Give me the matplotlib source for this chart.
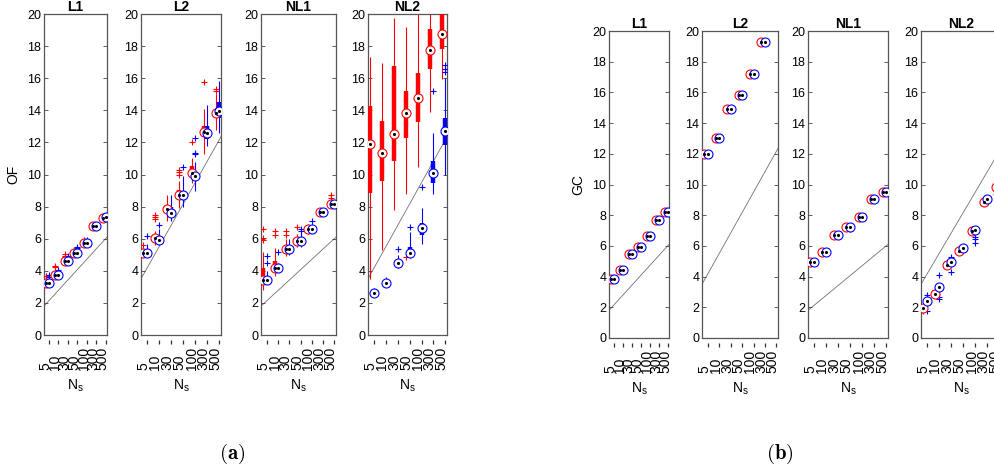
import matplotlib.pyplot as plt
import matplotlib.transforms as mtransforms
import numpy as np

plt.rcParams['font.family'] = ['Liberation Sans', 'DejaVu Sans']
plt.rcParams['mathtext.fontset'] = 'custom'
plt.rcParams['mathtext.rm'] = 'Liberation Sans'
plt.rcParams['mathtext.it'] = 'Liberation Sans'

ns_labels = ['5', '10', '30', '50', '100', '300', '500']
panel_names = ['L1', 'L2', 'NL1', 'NL2']

# lower bound line, value at left and right edge of the axes
bound_l = [1.8, 6.1]
bound_l2 = [3.5, 12.35]

# rows: median, q1, q3, whisker low, whisker high
of_l1_red = [[3.22, 3.2, 3.25, 3.15, 3.4], [3.72, 3.7, 3.75, 3.65, 4.2], [4.62, 4.6, 4.65, 4.55, 4.8],
             [5.08, 5.05, 5.1, 5.0, 5.25], [5.75, 5.72, 5.78, 5.7, 5.9], [6.8, 6.78, 6.82, 6.75, 6.85],
             [7.32, 7.3, 7.35, 7.28, 7.38]]
of_l1_red_out = [[3.7, 3.65], [4.3, 4.25], [5.05, 4.95, 4.85], [5.3], [5.95], [], []]
of_l1_blue = [[3.22, 3.2, 3.25, 3.15, 3.45], [3.72, 3.7, 3.75, 3.65, 3.9], [4.62, 4.6, 4.65, 4.55, 4.75],
              [5.08, 5.05, 5.12, 5.0, 5.3], [5.75, 5.72, 5.8, 5.7, 5.85], [6.8, 6.78, 6.83, 6.75, 6.88],
              [7.35, 7.32, 7.38, 7.3, 7.42]]
of_l1_blue_out = [[3.75, 3.6], [4.05, 3.95], [4.9, 4.8], [5.5, 5.4], [5.92], [], [7.4]]

of_l2_red = [[5.1, 5.05, 5.2, 4.95, 5.45], [6.05, 5.95, 6.25, 5.6, 6.5], [7.82, 7.7, 8.05, 7.1, 8.7],
             [8.7, 8.6, 9.05, 7.9, 9.6], [10.1, 9.9, 10.5, 9.5, 11.0], [12.65, 12.4, 13.0, 11.3, 14.1],
             [13.85, 13.5, 13.9, 12.8, 15.0]]
of_l2_red_out = [[5.6], [7.5, 7.35, 7.2], [], [10.3, 10.15, 10.0], [12.0], [15.75], [15.3, 15.2]]
of_l2_blue = [[5.12, 5.05, 5.2, 4.95, 5.7], [5.95, 5.85, 6.1, 5.6, 6.6], [7.62, 7.55, 7.95, 7.1, 8.7],
              [8.7, 8.6, 9.0, 8.0, 9.9], [9.88, 9.75, 10.1, 9.0, 10.8], [12.6, 12.2, 13.0, 11.8, 14.3],
              [13.95, 13.5, 14.5, 12.6, 15.8]]
of_l2_blue_out = [[6.15], [6.85], [], [10.45], [12.25, 11.35, 11.25], [], []]

of_nl1_red = [[3.43, 3.1, 4.15, 2.8, 5.2], [4.15, 4.05, 4.6, 3.7, 5.4], [5.36, 5.25, 5.5, 4.9, 6.0],
              [5.83, 5.75, 5.95, 5.5, 6.3], [6.58, 6.5, 6.65, 6.3, 6.9], [7.64, 7.6, 7.7, 7.5, 7.85],
              [8.16, 8.1, 8.2, 8.0, 8.4]]
of_nl1_red_out = [[6.58, 6.02, 5.92], [6.45, 6.25], [6.45, 6.25], [6.7], [], [], [8.7, 8.55]]
of_nl1_blue = [[3.43, 3.35, 3.55, 3.2, 4.0], [4.15, 4.1, 4.25, 3.9, 4.5], [5.36, 5.3, 5.45, 5.0, 6.0],
               [5.83, 5.75, 6.0, 5.5, 6.4], [6.58, 6.5, 6.65, 6.35, 6.9], [7.64, 7.6, 7.7, 7.55, 7.8],
               [8.16, 8.1, 8.2, 8.05, 8.3]]
of_nl1_blue_out = [[4.92, 4.47], [5.2], [], [6.6, 6.45], [7.1], [], []]

of_nl2_red = [[11.9, 8.87, 14.27, 3.5, 17.35], [11.32, 9.62, 13.33, 5.3, 16.97], [12.52, 10.86, 16.76, 7.79, 19.73],
              [13.81, 12.25, 15.22, 8.78, 19.17], [14.77, 13.25, 16.3, 10.49, 21.0], [17.78, 16.6, 19.05, 13.9, 21.5],
              [18.77, 17.8, 21.0, 15.93, 22.0]]
of_nl2_red_out = [[], [], [], [4.84], [], [], []]
of_nl2_blue = [[2.64, 2.58, 2.7, 2.4, 2.95], [3.26, 3.2, 3.32, 3.0, 3.6], [4.47, 4.4, 4.55, 4.2, 5.0],
               [5.09, 5.05, 5.5, 4.8, 6.4], [6.65, 6.25, 7.0, 5.7, 7.9], [10.07, 9.45, 10.85, 8.8, 12.6],
               [12.73, 11.85, 13.55, 10.0, 16.0]]
of_nl2_blue_out = [[], [], [5.35], [6.7], [9.2], [15.2], [16.4, 16.6, 16.8]]

gc_l1_red = [[3.84, 3.82, 3.86, 3.8, 3.88], [4.44, 4.42, 4.46, 4.4, 4.48], [5.44, 5.42, 5.46, 5.4, 5.48],
             [5.96, 5.94, 5.98, 5.92, 6.0], [6.65, 6.63, 6.67, 6.61, 6.69], [7.69, 7.67, 7.71, 7.65, 7.73],
             [8.21, 8.19, 8.23, 8.17, 8.25]]
gc_l1_red_out = [[], [], [], [], [], [], []]
gc_l1_blue = gc_l1_red
gc_l1_blue_out = [[], [], [], [], [], [], []]

gc_l2_red = [[11.98, 11.96, 12.0, 11.94, 12.02], [13.02, 13.0, 13.04, 12.98, 13.06], [14.89, 14.87, 14.91, 14.85, 14.93],
             [15.84, 15.82, 15.86, 15.8, 15.88], [17.18, 17.16, 17.2, 17.14, 17.22], [19.28, 19.26, 19.3, 19.24, 19.32],
             [21.0, 20.98, 21.02, 20.96, 21.04]]
gc_l2_red_out = [[], [], [], [], [], [], []]
gc_l2_blue = gc_l2_red
gc_l2_blue_out = [[], [], [], [], [], [], []]

gc_nl1_red = [[4.98, 4.96, 5.0, 4.9, 5.02], [5.63, 5.61, 5.65, 5.58, 5.68], [6.72, 6.68, 6.74, 6.6, 6.76],
              [7.22, 7.2, 7.24, 7.15, 7.26], [7.91, 7.89, 7.93, 7.86, 7.95], [9.04, 9.02, 9.06, 9.0, 9.08],
              [9.51, 9.49, 9.53, 9.45, 9.56]]
gc_nl1_red_out = [[], [], [], [], [], [], []]
gc_nl1_blue = [[4.98, 4.96, 5.0, 4.85, 5.02], [5.63, 5.61, 5.65, 5.58, 5.68], [6.72, 6.7, 6.74, 6.66, 6.76],
               [7.22, 7.18, 7.24, 7.1, 7.28], [7.91, 7.89, 7.93, 7.86, 7.95], [9.04, 9.02, 9.06, 9.0, 9.08],
               [9.51, 9.48, 9.53, 9.4, 9.56]]
gc_nl1_blue_out = [[], [], [], [7.1], [], [], []]

gc_nl2_red = [[1.97, 1.9, 2.02, 1.8, 2.1], [2.87, 2.8, 2.95, 2.7, 3.1], [4.76, 4.7, 4.85, 4.6, 4.95],
              [5.69, 5.62, 5.75, 5.55, 5.85], [6.97, 6.92, 7.02, 6.85, 7.1], [8.88, 8.84, 8.92, 8.75, 8.96],
              [9.86, 9.8, 9.9, 9.7, 9.95]]
gc_nl2_red_out = [[1.75], [3.1], [4.93], [5.8], [7.1], [], [9.55, 9.35]]
gc_nl2_blue = [[2.43, 2.38, 2.5, 2.3, 2.6], [3.34, 3.25, 3.45, 3.0, 3.6], [4.97, 4.9, 5.05, 4.8, 5.15],
               [5.84, 5.8, 5.9, 5.7, 5.95], [7.04, 7.0, 7.1, 6.9, 7.15], [9.06, 9.0, 9.1, 8.95, 9.15],
               [10.08, 10.0, 10.15, 9.7, 10.25]]
gc_nl2_blue_out = [[2.8, 1.75], [4.1, 2.7, 2.55], [4.3, 5.25], [], [6.55, 6.42, 6.2], [], [9.6, 8.9]]

of_red = [of_l1_red, of_l2_red, of_nl1_red, of_nl2_red]
of_red_out = [of_l1_red_out, of_l2_red_out, of_nl1_red_out, of_nl2_red_out]
of_blue = [of_l1_blue, of_l2_blue, of_nl1_blue, of_nl2_blue]
of_blue_out = [of_l1_blue_out, of_l2_blue_out, of_nl1_blue_out, of_nl2_blue_out]
gc_red = [gc_l1_red, gc_l2_red, gc_nl1_red, gc_nl2_red]
gc_red_out = [gc_l1_red_out, gc_l2_red_out, gc_nl1_red_out, gc_nl2_red_out]
gc_blue = [gc_l1_blue, gc_l2_blue, gc_nl1_blue, gc_nl2_blue]
gc_blue_out = [gc_l1_blue_out, gc_l2_blue_out, gc_nl1_blue_out, gc_nl2_blue_out]
bounds = [bound_l, bound_l2, bound_l, bound_l2]

W, H = 995, 474
fig = plt.figure(figsize=(W / 100, H / 100), dpi=100)

x_red = np.arange(7)
x_blue = x_red + 0.31
xlim = (-0.2, 6.45)


def draw_series(ax, xs, rows, outs, color):
    rows = np.array(rows)
    med, q1, q3, lo, hi = rows.T
    ax.vlines(xs, lo, hi, color=color, lw=0.8, capstyle='butt', zorder=2)
    ax.vlines(xs, q1, q3, color=color, lw=3.2, capstyle='butt', zorder=3)
    for x, o in zip(xs, outs):
        if o:
            ax.plot([x] * len(o), o, '+', color=color, ms=4, mew=0.8, zorder=4)
    ax.plot(xs, med, 'o', mfc='white', mec=color, ms=6.5, mew=0.8, zorder=5)
    ax.plot(xs, med, '.', color='k', ms=2.5, zorder=6)


def make_panel(px, top, bottom, name, bound, red, red_out, blue, blue_out, ylabel=None):
    ax = fig.add_axes([px[0] / W, (H - bottom) / H, (px[1] - px[0]) / W, (bottom - top) / H])
    ax.set_xlim(*xlim)
    ax.set_ylim(0, 20)
    ax.plot(xlim, bound, color='#707070', lw=0.6, zorder=1)
    draw_series(ax, x_red, red, red_out, 'red')
    draw_series(ax, x_blue, blue, blue_out, 'blue')
    ax.set_yticks(np.arange(0, 21, 2))
    ax.tick_params(axis='y', direction='in', right=True, length=3, width=0.6,
                   labelsize=9, pad=2, color='#404040')
    ax.set_xticks([])
    # small group marks below the axes
    trans = mtransforms.blended_transform_factory(ax.transData, ax.transAxes)
    mark_y = -7 / (bottom - top)
    ax.plot(x_blue, [mark_y] * 7, '|', color='#333333', ms=2.5, mew=0.9,
            transform=trans, clip_on=False)
    for x, lbl in zip(x_red, ns_labels):
        ax.annotate(lbl, xy=(x, 0), xycoords=('data', 'axes fraction'), xytext=(0, -25),
                    textcoords='offset points', rotation=90, ha='center', va='bottom', fontsize=10)
    ax.set_xlabel('N$_s$', fontsize=10)
    ax.xaxis.set_label_coords(0.5, -(43 / (bottom - top)))
    ax.xaxis.label.set_va('top')
    for s in ax.spines.values():
        s.set_color('#555555')
        s.set_linewidth(0.9)
    ax.set_title(name, fontsize=10, fontweight='bold', pad=2)
    if ylabel:
        ax.set_ylabel(ylabel, fontsize=10, labelpad=5)
    return ax


pos_a = [(44, 107), (141, 221), (261, 336), (368, 447)]
pos_b = [(609, 669), (702, 778), (808, 888), (921, 1001)]

for i in range(4):
    make_panel(pos_a[i], 14, 335, panel_names[i], bounds[i], of_red[i], of_red_out[i],
               of_blue[i], of_blue_out[i], 'OF' if i == 0 else None)
    make_panel(pos_b[i], 31, 338, panel_names[i], bounds[i], gc_red[i], gc_red_out[i],
               gc_blue[i], gc_blue_out[i], 'GC' if i == 0 else None)

fig.text(232 / W, 1 - 454 / H, r'$\mathbf{(a)}$', math_fontfamily='cm', fontsize=15,
         ha='center', va='center')
fig.text(780 / W, 1 - 454 / H, r'$\mathbf{(b)}$', math_fontfamily='cm', fontsize=15,
         ha='center', va='center')

fig.savefig('out.png', dpi=100)
